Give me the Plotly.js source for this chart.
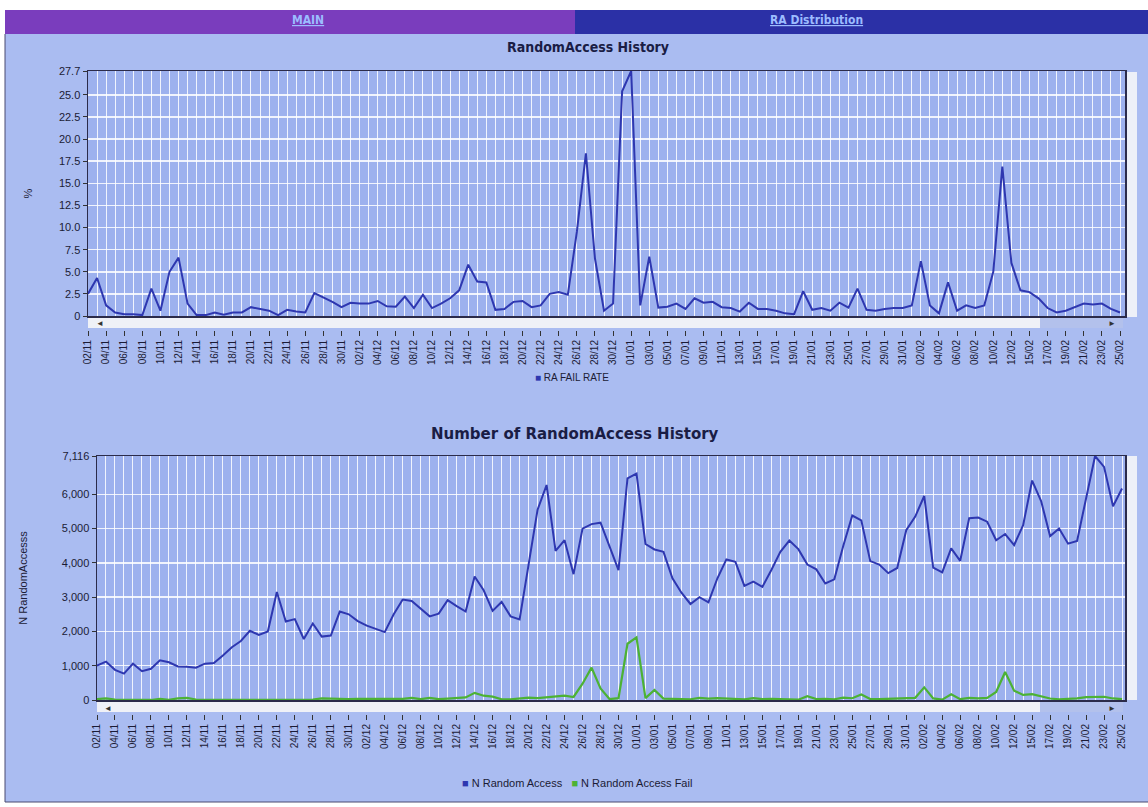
<!DOCTYPE html>
<html><head><meta charset="utf-8">
<script src="https://cdn.plot.ly/plotly-3.0.1.min.js"></script>
<style>html,body{margin:0;padding:0;background:#fff}#chart{width:1148px;height:807px}</style>
</head><body><div id="chart"></div>
<script>
const days = ['02/11','03/11','04/11','05/11','06/11','07/11','08/11','09/11','10/11','11/11','12/11','13/11','14/11','15/11','16/11','17/11','18/11','19/11','20/11','21/11','22/11','23/11','24/11','25/11','26/11','27/11','28/11','29/11','30/11',
'01/12','02/12','03/12','04/12','05/12','06/12','07/12','08/12','09/12','10/12','11/12','12/12','13/12','14/12','15/12','16/12','17/12','18/12','19/12','20/12','21/12','22/12','23/12','24/12','25/12','26/12','27/12','28/12','29/12','30/12','31/12',
'01/01','02/01','03/01','04/01','05/01','06/01','07/01','08/01','09/01','10/01','11/01','12/01','13/01','14/01','15/01','16/01','17/01','18/01','19/01','20/01','21/01','22/01','23/01','24/01','25/01','26/01','27/01','28/01','29/01','30/01','31/01',
'01/02','02/02','03/02','04/02','05/02','06/02','07/02','08/02','09/02','10/02','11/02','12/02','13/02','15/02','16/02','17/02','18/02','19/02','20/02','21/02','22/02','23/02','24/02','25/02'];

const raFailRate = [2.5,4.3,1.2,0.4,0.2,0.2,0.1,3.1,0.6,5.0,
 6.6,1.4,0.1,0.1,0.4,0.15,0.4,0.4,1.0,0.8,
 0.6,0.1,0.7,0.5,0.4,2.6,2.1,1.6,1.0,1.5,
 1.4,1.4,1.7,1.1,1.05,2.2,0.9,2.4,0.9,1.4,
 2.0,2.9,5.8,3.9,3.8,0.7,0.8,1.6,1.7,1.0,
 1.2,2.5,2.7,2.4,9.5,18.4,6.5,0.6,1.4,25.4,
 27.7,1.2,6.7,0.95,1.05,1.4,0.8,2.0,1.5,1.6,
 1.0,0.9,0.5,1.5,0.8,0.8,0.6,0.3,0.2,2.8,
 0.7,0.9,0.6,1.5,0.95,3.1,0.7,0.6,0.8,0.9,
 0.9,1.2,6.2,1.2,0.3,3.8,0.6,1.2,0.9,1.2,
 5.0,16.9,6.0,2.9,2.7,2.0,0.9,0.4,0.6,1.0,
 1.4,1.3,1.4,0.8,0.4];

const nRandomAccess = [1000,1120,880,770,1060,840,910,1160,1100,980,
 970,940,1060,1080,1300,1540,1720,2020,1900,2000,
 3150,2290,2360,1780,2230,1850,1880,2580,2500,2300,
 2170,2080,1980,2500,2930,2890,2660,2440,2520,2910,
 2740,2580,3600,3200,2600,2860,2440,2350,3950,5550,
 6270,4350,4660,3670,5000,5130,5170,4470,3790,6460,
 6600,4550,4390,4320,3550,3130,2800,3000,2850,3550,
 4100,4030,3330,3450,3300,3790,4320,4650,4400,3950,
 3810,3400,3520,4500,5380,5240,4050,3950,3700,3850,
 4950,5350,5950,3860,3720,4420,4060,5300,5320,5200,
 4660,4840,4520,5100,6400,5800,4780,5000,4560,4640,
 5900,7116,6800,5650,6170];

const nRandomAccessFail = [25,48,11,3,2,2,1,36,7,49,
 64,13,1,1,5,2,7,8,19,16,
 19,2,17,9,9,48,39,41,25,35,
 30,29,34,28,31,64,24,59,23,41,
 55,75,209,125,99,20,20,38,67,56,
 75,109,126,88,475,944,336,27,53,1641,
 1828,55,294,41,37,44,22,60,43,57,
 41,36,17,52,26,30,26,14,9,111,
 27,31,21,68,51,162,28,24,30,35,
 45,64,369,46,11,168,24,64,48,62,
 233,818,271,148,173,116,43,20,27,46,
 83,93,95,45,25];

const rateTickVals = [0,2.5,5,7.5,10,12.5,15,17.5,20,22.5,25,27.7];
const rateTickText = ['0','2.5','5.0','7.5','10.0','12.5','15.0','17.5','20.0','22.5','25.0','27.7'];
const countTickVals = [0,1000,2000,3000,4000,5000,6000,7116];
const countTickText = ['0','1,000','2,000','3,000','4,000','5,000','6,000','7,116'];

const labelIdx = days.map((d,i)=>i).filter(i=>i%2===0);
const labelText = labelIdx.map(i=>days[i]);

const W=1148,H=807;
const X=p=>p/W, Y=p=>1-p/H;

const BLUE='#2e37b0', GREEN='#4cb234', TXT='#1b1b35', AXL='#2b2b4a';
const GRID='rgba(255,255,255,0.85)';
const tickFont={family:'Liberation Sans, Arial, sans-serif',size:11,color:TXT};
const xLblFont={family:'Liberation Sans, Arial, sans-serif',size:10,color:TXT};

const traces=[
 {x:days,y:raFailRate,xaxis:'x',yaxis:'y',type:'scatter',mode:'lines',name:'RA FAIL RATE',line:{color:BLUE,width:2}},
 {x:days,y:nRandomAccess,xaxis:'x2',yaxis:'y2',type:'scatter',mode:'lines',name:'N Random Access',line:{color:BLUE,width:2}},
 {x:days,y:nRandomAccessFail,xaxis:'x2',yaxis:'y2',type:'scatter',mode:'lines',name:'N Random Access Fail',line:{color:GREEN,width:2.2}},
 {x:labelIdx,y:labelIdx.map(()=>null),xaxis:'x3',yaxis:'y',type:'scatter',mode:'lines',showlegend:false,hoverinfo:'skip'},
 {x:labelIdx,y:labelIdx.map(()=>null),xaxis:'x4',yaxis:'y2',type:'scatter',mode:'lines',showlegend:false,hoverinfo:'skip'}
];

const gridAxis=(dom,anchor,rng)=>({type:'category',domain:dom,anchor:anchor,range:rng,tickmode:'array',tickvals:days,
  showticklabels:false,ticks:'',showgrid:true,gridcolor:GRID,gridwidth:1,showline:true,mirror:true,linecolor:AXL,linewidth:1.5,zeroline:false,fixedrange:true});
const labelAxis=(over,pos,rng)=>({overlaying:over,anchor:'free',position:pos,type:'linear',range:rng,tickmode:'array',
  tickvals:labelIdx,ticktext:labelText,tickangle:-90,ticks:'outside',ticklen:5,tickwidth:1,tickcolor:'#333',tickfont:xLblFont,
  showgrid:false,zeroline:false,showline:false,fixedrange:true});

const layout={
 width:W,height:H,margin:{l:0,r:0,t:0,b:0},showlegend:false,
 paper_bgcolor:'#aabcf1',plot_bgcolor:'#9db1ee',
 xaxis:gridAxis([X(88),X(1125)],'y',[0,114.55]),
 xaxis3:labelAxis('x',Y(330),[0,114.55]),
 yaxis:{domain:[Y(316),Y(71)],anchor:'x',range:[0,27.7],tickmode:'array',tickvals:rateTickVals,ticktext:rateTickText,
   ticks:'outside',ticklen:4,tickcolor:'#333',tickfont:tickFont,showgrid:true,gridcolor:GRID,gridwidth:1.5,
   showline:true,mirror:true,linecolor:AXL,linewidth:1.5,zeroline:false,fixedrange:true,
   title:{text:'%',standoff:24,font:{family:'Liberation Sans, Arial, sans-serif',size:11,color:TXT}}},
 xaxis2:gridAxis([X(97),X(1125)],'y2',[0,114.33]),
 xaxis4:labelAxis('x2',Y(714),[0,114.33]),
 yaxis2:{domain:[Y(700),Y(456)],anchor:'x2',range:[0,7116],tickmode:'array',tickvals:countTickVals,ticktext:countTickText,
   ticks:'outside',ticklen:4,tickcolor:'#333',tickfont:tickFont,showgrid:true,gridcolor:GRID,gridwidth:1.5,
   showline:true,mirror:true,linecolor:AXL,linewidth:1.5,zeroline:false,fixedrange:true,
   title:{text:'N RandomAccesss',standoff:32,font:{family:'Liberation Sans, Arial, sans-serif',size:11,color:TXT}}},
 shapes:[
  {type:'rect',xref:'paper',yref:'paper',x0:0,x1:1,y0:Y(10),y1:1,fillcolor:'#ffffff',line:{width:0}},
  {type:'rect',xref:'paper',yref:'paper',x0:0,x1:X(5),y0:0,y1:1,fillcolor:'#ffffff',line:{width:0}},
  {type:'rect',xref:'paper',yref:'paper',x0:0,x1:1,y0:0,y1:Y(802),fillcolor:'#ffffff',line:{width:0}},
  {type:'rect',xref:'paper',yref:'paper',x0:X(5),x1:X(575),y0:Y(34),y1:Y(10),fillcolor:'#7a3dbd',line:{width:0}},
  {type:'rect',xref:'paper',yref:'paper',x0:X(575),x1:X(1148),y0:Y(34),y1:Y(10),fillcolor:'#2b30a6',line:{width:0}},
  {type:'line',xref:'paper',yref:'paper',x0:X(5),x1:X(5),y0:Y(802),y1:Y(34),line:{color:'#4a4a70',width:1}},
  {type:'line',xref:'paper',yref:'paper',x0:X(5),x1:X(1148),y0:Y(802),y1:Y(802),line:{color:'#4a4a70',width:1}},
  {type:'rect',xref:'paper',yref:'paper',x0:X(88),x1:X(1040),y0:Y(328),y1:Y(318),fillcolor:'#eff1f7',line:{width:0}},
  {type:'rect',xref:'paper',yref:'paper',x0:X(1040),x1:X(1123),y0:Y(328),y1:Y(318),fillcolor:'#b3c1ec',line:{width:0}},
  {type:'rect',xref:'paper',yref:'paper',x0:X(1127),x1:X(1137),y0:Y(317),y1:Y(72),fillcolor:'#edf0f8',line:{width:0}},
  {type:'rect',xref:'paper',yref:'paper',x0:X(97),x1:X(1040),y0:Y(712),y1:Y(702),fillcolor:'#eff1f7',line:{width:0}},
  {type:'rect',xref:'paper',yref:'paper',x0:X(1040),x1:X(1123),y0:Y(712),y1:Y(702),fillcolor:'#b3c1ec',line:{width:0}},
  {type:'rect',xref:'paper',yref:'paper',x0:X(1127),x1:X(1137),y0:Y(700),y1:Y(456),fillcolor:'#edf0f8',line:{width:0}}
 ],
 annotations:[
  {xref:'paper',yref:'paper',x:X(290),y:Y(20),yanchor:'middle',text:'<u>MAIN</u>',showarrow:false,font:{family:'DejaVu Sans Condensed, DejaVu Sans, sans-serif',size:12,color:'#9cbcff',weight:'bold'}},
  {xref:'paper',yref:'paper',x:X(865),y:Y(20),yanchor:'middle',text:'<u>RA Distribution</u>',showarrow:false,font:{family:'DejaVu Sans Condensed, DejaVu Sans, sans-serif',size:12,color:'#9cbcff',weight:'bold'}},
  {xref:'paper',yref:'paper',x:X(588),y:Y(47),yanchor:'middle',text:'<b>RandomAccess History</b>',showarrow:false,font:{family:'DejaVu Sans Condensed, DejaVu Sans, sans-serif',size:14,color:'#1a1d45'}},
  {xref:'paper',yref:'paper',x:X(575),y:Y(434),yanchor:'middle',text:'<b>Number of RandomAccess History</b>',showarrow:false,font:{family:'DejaVu Sans, sans-serif',size:15,color:'#1a1d45'}},
  {xref:'paper',yref:'paper',x:X(572),y:Y(377),yanchor:'middle',text:'<span style="color:'+BLUE+'">■</span> RA FAIL RATE',showarrow:false,font:{family:'Liberation Sans, Arial, sans-serif',size:10,color:TXT}},
  {xref:'paper',yref:'paper',x:X(577),y:Y(783),yanchor:'middle',text:'<span style="color:'+BLUE+'">■</span> N Random Access   <span style="color:'+GREEN+'">■</span> N Random Access Fail',showarrow:false,font:{family:'Liberation Sans, Arial, sans-serif',size:11,color:TXT}},
  {xref:'paper',yref:'paper',x:X(94),y:Y(323),yanchor:'middle',text:'◄',showarrow:false,font:{size:8,color:'#333'}},
  {xref:'paper',yref:'paper',x:X(1118),y:Y(323),yanchor:'middle',text:'►',showarrow:false,font:{size:8,color:'#333'}},
  {xref:'paper',yref:'paper',x:X(102),y:Y(707),yanchor:'middle',text:'◄',showarrow:false,font:{size:8,color:'#333'}},
  {xref:'paper',yref:'paper',x:X(1118),y:Y(707),yanchor:'middle',text:'►',showarrow:false,font:{size:8,color:'#333'}}
 ]
};
Plotly.newPlot('chart',traces,layout,{staticPlot:true,displayModeBar:false});
</script></body></html>
